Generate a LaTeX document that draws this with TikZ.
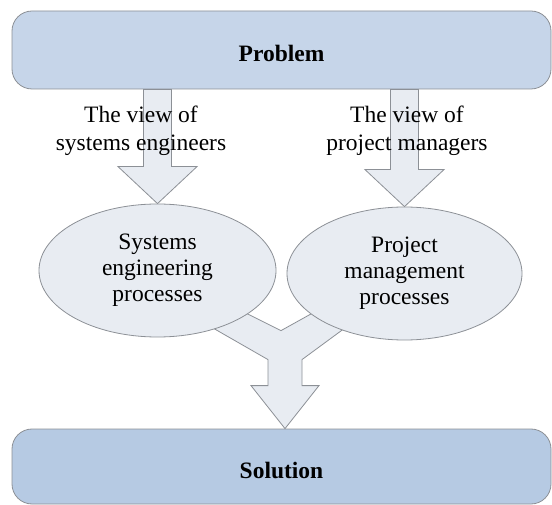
\documentclass[tikz,border=0pt]{standalone}
\usepackage{fontspec}
\setmainfont{Liberation Serif}
\usetikzlibrary{shapes.geometric,backgrounds,calc}
\definecolor{probblue}{RGB}{198,213,233}
\definecolor{solblue}{RGB}{182,202,227}
\definecolor{procgray}{RGB}{232,236,242}
\definecolor{edgegray}{RGB}{140,144,150}
\begin{document}
\begin{tikzpicture}
	[
		x                  = 1pt,
		y                  = -1pt,
		font               = \fontsize{23.5}{28}\selectfont,
		align              = center,
		box/.style         = {draw=edgegray, line width=0.8pt, rounded corners=20pt, minimum width=539pt,
		                      text height=23.5pt, text depth=0pt, font=\fontsize{23.5}{28}\selectfont\bfseries},
		process/.style     = {ellipse, draw=edgegray, fill=procgray, line width=0.8pt, inner sep=0pt,
		                      minimum height=133pt, font=\fontsize{23.5}{26}\selectfont},
		blockarrow/.style  = {draw=edgegray, fill=procgray, line width=0.8pt, line join=miter}
	]
	\useasboundingbox (0,0) rectangle (552,505);
	\node [box, fill=probblue, minimum height=78pt] (prob) at (281.5,50) {Problem};
	\node [box, fill=solblue, minimum height=75pt] (sol) at (281.5,466.5) {Solution};
	\node [process, minimum width=237pt] (sep) at (157.5,270.5) {Systems\\engineering\\processes};
	\node [process, minimum width=235pt] (pmp) at (404.5,273.5) {Project\\management\\processes};
	\node (sev) at (141,131) {The view of\\systems engineers};
	\node (pmv) at (407,131) {The view of\\project managers};
	\begin{pgfonlayer}{background}
		\foreach \n in {sep,pmp}
			\draw [blockarrow] (\n.north) -- ++(-39.5,-37) coordinate (hl) -- ++(25.5,0) coordinate (sl)
				-- (sl |- prob.south) -- ++(28,0) coordinate (sr) -- (sr |- hl) -- ++(25.5,0) -- cycle;
		\coordinate (tip) at ($(sol.north)+(3.5,0)$);
		\draw [blockarrow] (tip) -- ++(-34,-43) -- ++(17,0) -- ++(0,-26) -- ++(-68,-39) -- ++(33,-14)
			-- ++(48,24) -- ++(45,-25) -- ++(29,15) -- ++(-53,39) -- ++(0,26) -- ++(17,0) -- cycle;
	\end{pgfonlayer}
\end{tikzpicture}
\end{document}
